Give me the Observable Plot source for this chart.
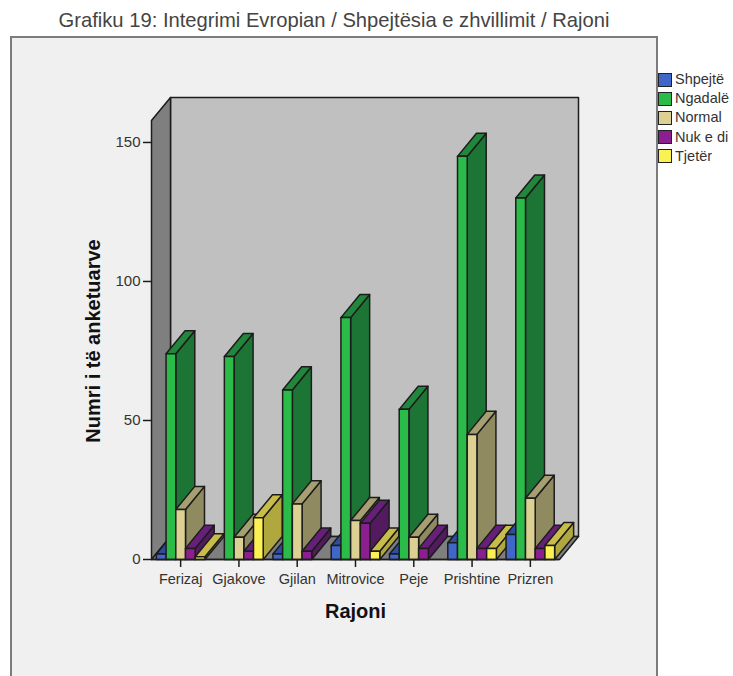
<!DOCTYPE html>
<html>
<head>
<meta charset="utf-8">
<script src="https://cdn.jsdelivr.net/npm/d3@7"></script>
<script src="https://cdn.jsdelivr.net/npm/@observablehq/plot@0.6"></script>
<style>
html,body{margin:0;padding:0;background:#fff;width:733px;height:676px;overflow:hidden;font-family:"Liberation Sans",Arial,sans-serif}
#wrap{position:relative;width:733px;height:676px;overflow:hidden}
#panel{position:absolute;left:10px;top:36px;width:644px;height:700px;background:#f0f0f0;border:2px solid #7c7c7c}
#title{position:absolute;left:0;top:0;width:668px;height:30px;line-height:41px;text-align:center;font-size:20.2px;color:#444;white-space:nowrap}
#chart{position:absolute;left:0;top:30px}
#legend{position:absolute;left:658px;top:70px;color:#333}
.lg-swatches-columns{columns:1!important;margin:0!important;min-height:0!important;font:14.5px "Liberation Sans",Arial,sans-serif!important}
.lg-swatch{height:19.2px!important;line-height:19.2px!important;margin:0!important;padding:0!important;display:flex;align-items:center}
.lg-swatch svg{margin-right:3px!important;stroke:#222;stroke-width:2px;overflow:hidden}
</style>
</head>
<body>
<div id="wrap">
<div id="panel"></div>
<div id="title">Grafiku 19: Integrimi Evropian / Shpejtësia e zhvillimit / Rajoni</div>
<div id="chart"></div>
<div id="legend"></div>
</div>
<script>
const categories = ["Ferizaj","Gjakove","Gjilan","Mitrovice","Peje","Prishtine","Prizren"];
const seriesNames = ["Shpejtë","Ngadalë","Normal","Nuk e di","Tjetër"];
const shpejte = [2,0,2,5,2,6,9];
const ngadale = [74,73,61,87,54,145,130];
const normal  = [18,8,20,14,8,45,22];
const nukEDi  = [4,3,3,13,4,4,4];
const tjeter  = [1,15,0,3,0,4,5];
const yTicks = [0,50,100,150];
const frontColors = ["#3f66c8","#2abb49","#dcd092","#8c1f8f","#fbf153"];
const sideColors  = ["#2a4590","#1c7535","#8f8a60","#531a60","#b0a83f"];
const topColors   = ["#2f4c9e","#22863c","#a69f72","#66207a","#c9bd4a"];
const wallColor = "#c0c0c0", sideWall = "#7f7f7f";
const depthX = 0.326, depthY = 8.3, yTop = 157.9;

const values = [shpejte,ngadale,normal,nukEDi,tjeter];
const faces = [];
let fid = 0;
function face(fill, pts){
  const z = fid++;
  [...pts, pts[0]].forEach(([x,y]) => faces.push({x,y,z,fill}));
}
const L = -0.5, R = 6.5;
face(wallColor,[[L+depthX,depthY],[R+depthX,depthY],[R+depthX,yTop+depthY],[L+depthX,yTop+depthY]]);
face(sideWall,[[L,0],[L+depthX,depthY],[L+depthX,yTop+depthY],[L,yTop]]);
face(sideWall,[[L,0],[R,0],[R+depthX,depthY],[L+depthX,depthY]]);
categories.forEach((c,i) => values.forEach((s,j) => {
  const v = s[i];
  if (!v) return;
  const mid = i + (j-2)/6, x0 = mid-1/12, x1 = mid+1/12;
  face(sideColors[j],[[x1,0],[x1+depthX,depthY],[x1+depthX,v+depthY],[x1,v]]);
  face(topColors[j],[[x0,v],[x1,v],[x1+depthX,v+depthY],[x0+depthX,v+depthY]]);
  face(frontColors[j],[[x0,0],[x1,0],[x1,v],[x0,v]]);
}));

const chart = Plot.plot({
  width:733, height:646,
  marginLeft:151, marginRight:174, marginTop:90, marginBottom:117,
  style:{background:"transparent",fontFamily:"'Liberation Sans',Arial,sans-serif",color:"#333"},
  x:{domain:[L,R],axis:null},
  y:{domain:[0,yTop],axis:null},
  marks:[
    Plot.line(faces,{x:"x",y:"y",z:"z",fill:"fill",stroke:"#1c1c1c",strokeWidth:1.5,curve:"linear"}),
    Plot.ruleY([0],{stroke:"#1c1c1c",strokeWidth:1.5}),
    Plot.axisY({ticks:yTicks,tickSize:8,tickPadding:3,fontSize:15,label:null,stroke:"#1c1c1c",strokeWidth:1.5}),
    Plot.axisX({ticks:d3.range(categories.length),tickFormat:i=>categories[i],tickSize:8,tickPadding:6,fontSize:14.5,label:null,stroke:"#1c1c1c",strokeWidth:1.5}),
    Plot.text(["Numri i të anketuarve"],{frameAnchor:"left",textAnchor:"middle",rotate:-90,dx:-58,dy:1,fontWeight:"bold",fontSize:20,fill:"#111"}),
    Plot.text(["Rajoni"],{frameAnchor:"bottom",dy:58,fontWeight:"bold",fontSize:20,fill:"#111"})
  ]
});
document.getElementById("chart").appendChild(chart);
const legend = Plot.legend({color:{type:"ordinal",domain:seriesNames,range:frontColors},legend:"swatches",columns:1,swatchSize:14,className:"lg"});
document.getElementById("legend").appendChild(legend);
</script>
</body>
</html>
